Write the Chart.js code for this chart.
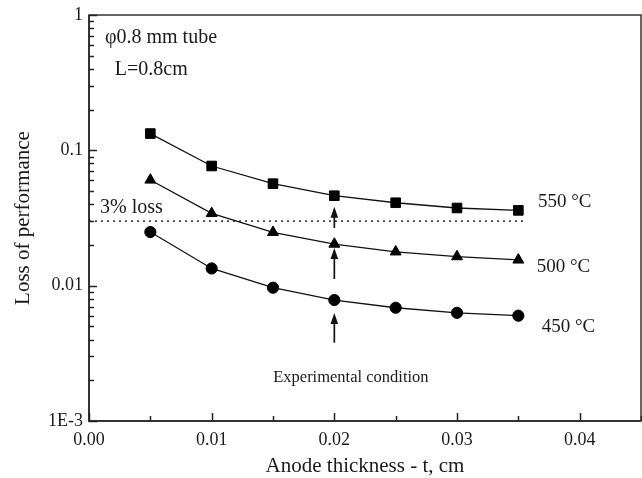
<!DOCTYPE html>
<html>
<head>
<meta charset="utf-8">
<script src="https://cdn.jsdelivr.net/npm/chart.js@4.4.1/dist/chart.umd.min.js"></script>
<style>
html,body{margin:0;padding:0;background:#fff;}
canvas{display:block;}
</style>
</head>
<body>
<canvas id="c" width="642" height="478"></canvas>
<script>
// ---- data ----
const thickness = [0.005, 0.010, 0.015, 0.020, 0.025, 0.030, 0.035];
const loss550 = [0.133, 0.0766, 0.0567, 0.0462, 0.0410, 0.0375, 0.0360];
const loss500 = [0.0604, 0.0342, 0.0248, 0.0203, 0.0178, 0.0164, 0.0155];
const loss450 = [0.0249, 0.0134, 0.00966, 0.00783, 0.00687, 0.0063, 0.0060];
const seriesNames = ['550 °C', '500 °C', '450 °C'];
const lossLimit = 0.03;
const lossLimitRange = [0, 0.0355];
const xTickValues = [0, 0.005, 0.01, 0.015, 0.02, 0.025, 0.03, 0.035, 0.04, 0.045];
const xTickLabels = ['0.00', '', '0.01', '', '0.02', '', '0.03', '', '0.04', ''];
const yDecades = [0.001, 0.01, 0.1, 1];
const yDecadeLabels = ['1E-3', '0.01', '0.1', '1'];
const experimentT = 0.02;

const FONT = "'Liberation Serif', 'Times New Roman', serif";
const INK = '#1a1a1a';

function pts(ys){ return thickness.map((t,i)=>({x:t, y:ys[i]})); }

// y ticks: decades plus 2..9 minor ticks
function yTickList(){
  const out = [];
  for (let d = 0; d < yDecades.length; d++) {
    out.push({value: yDecades[d], major: true});
    if (d < yDecades.length - 1) {
      for (let m = 2; m <= 9; m++) out.push({value: yDecades[d]*m, major: false});
    }
  }
  return out;
}

const annotations = [
  {text:'\u03C60.8 mm tube', x:0.0013, y:0.676, size:20, align:'left'},
  {text:'L=0.8cm', x:0.0021, y:0.392, size:20, align:'left'},
  {text:'3% loss', x:0.0009, y:0.0378, size:20, align:'left'},
  {text:seriesNames[0], x:0.0366, y:0.0418, size:19, align:'left'},
  {text:seriesNames[1], x:0.0365, y:0.0138, size:19, align:'left'},
  {text:seriesNames[2], x:0.0369, y:0.00497, size:19, align:'left'},
  {text:'Experimental condition', x:0.02135, y:0.00208, size:16.5, align:'center'}
];
const arrows = [
  {x:experimentT, from:0.0267, to:0.0383},
  {x:experimentT, from:0.0112, to:0.0190},
  {x:experimentT, from:0.00379, to:0.00627}
];

const decor = {
  id:'decor',
  afterDatasetsDraw(chart){
    const ctx = chart.ctx, a = chart.chartArea;
    const xs = chart.scales.x, ys = chart.scales.y;
    ctx.save();
    // frame
    ctx.strokeStyle = '#333';
    ctx.lineWidth = 1.5;
    ctx.strokeRect(a.left, a.top, a.right - a.left, a.bottom - a.top);
    ctx.lineWidth = 2;
    ctx.beginPath();
    ctx.moveTo(a.left, a.top); ctx.lineTo(a.left, a.bottom); ctx.lineTo(a.right, a.bottom);
    ctx.stroke();
    // inward ticks
    ctx.lineWidth = 1.5;
    ctx.strokeStyle = '#222';
    ys.ticks.forEach(t => {
      const py = Math.round(ys.getPixelForValue(t.value)) + 0.5;
      const len = t.major ? 8 : 5;
      ctx.beginPath(); ctx.moveTo(a.left, py); ctx.lineTo(a.left + len, py); ctx.stroke();
    });
    xs.ticks.forEach((t, i) => {
      const px = Math.round(xs.getPixelForValue(t.value)) + 0.5;
      const len = xTickLabels[i] ? 8 : 5;
      ctx.beginPath(); ctx.moveTo(px, a.bottom); ctx.lineTo(px, a.bottom - len); ctx.stroke();
    });
    // arrows
    ctx.strokeStyle = '#111'; ctx.fillStyle = '#111'; ctx.lineWidth = 1.7;
    arrows.forEach(ar => {
      const px = xs.getPixelForValue(ar.x);
      const y0 = ys.getPixelForValue(ar.from), y1 = ys.getPixelForValue(ar.to);
      ctx.beginPath(); ctx.moveTo(px, y0); ctx.lineTo(px, y1 + 6); ctx.stroke();
      ctx.beginPath(); ctx.moveTo(px, y1); ctx.lineTo(px - 3.8, y1 + 11); ctx.lineTo(px + 3.8, y1 + 11); ctx.closePath(); ctx.fill();
    });
    // text
    ctx.fillStyle = INK;
    ctx.textBaseline = 'middle';
    annotations.forEach(an => {
      ctx.font = an.size + 'px ' + FONT;
      ctx.textAlign = an.align;
      ctx.fillText(an.text, xs.getPixelForValue(an.x), ys.getPixelForValue(an.y));
    });
    ctx.restore();
  }
};

const lineStyle = {borderColor:'#111', borderWidth:1.3, pointBackgroundColor:'#000', pointBorderColor:'#000', pointBorderWidth:1, tension:0, fill:false};

new Chart(document.getElementById('c'), {
  type:'line',
  data:{
    datasets:[
      Object.assign({label:seriesNames[0], data:pts(loss550), pointStyle:'rect', pointRadius:6.8}, lineStyle),
      Object.assign({label:seriesNames[1], data:pts(loss500), pointStyle:'triangle', pointRadius:6.3}, lineStyle),
      Object.assign({label:seriesNames[2], data:pts(loss450), pointStyle:'circle', pointRadius:5.6}, lineStyle),
      {label:'3% loss', data:lossLimitRange.map(x=>({x:x, y:lossLimit})), borderColor:'#444', borderWidth:1.6, borderDash:[2,4], pointRadius:0, fill:false}
    ]
  },
  options:{
    responsive:false,
    animation:false,
    devicePixelRatio:1,
    layout:{autoPadding:false, padding:{top:15, right:1, left:0, bottom:0}},
    plugins:{legend:{display:false}, tooltip:{enabled:false}},
    scales:{
      x:{
        type:'linear', min:0, max:0.045,
        afterBuildTicks(s){ s.ticks = xTickValues.map(v=>({value:v})); },
        afterFit(s){ s.height = 57; s.paddingLeft = 0; s.paddingRight = 0; },
        grid:{display:false, drawTicks:false},
        border:{display:false},
        ticks:{autoSkip:false, maxRotation:0, padding:8, color:INK, font:{family:FONT, size:18},
          callback(v, i){ return xTickLabels[i]; }},
        title:{display:true, text:'Anode thickness - t, cm', color:INK, font:{family:FONT, size:21}, padding:{top:0, bottom:-1}}
      },
      y:{
        type:'logarithmic', min:0.001, max:1,
        afterBuildTicks(s){ s.ticks = yTickList(); },
        afterFit(s){ s.width = 89; s.paddingTop = 0; s.paddingBottom = 0; },
        grid:{display:false, drawTicks:false},
        border:{display:false},
        ticks:{autoSkip:false, padding:6, color:INK, font:{family:FONT, size:18},
          callback(v){
            for (let j=0;j<yDecades.length;j++){ if (Math.abs(v - yDecades[j]) < yDecades[j]*1e-6) return yDecadeLabels[j]; }
            return ''; }},
        title:{display:true, text:'Loss of performance', color:INK, font:{family:FONT, size:21}, padding:{top:11, bottom:0}}
      }
    }
  },
  plugins:[decor]
});
</script>
</body>
</html>
